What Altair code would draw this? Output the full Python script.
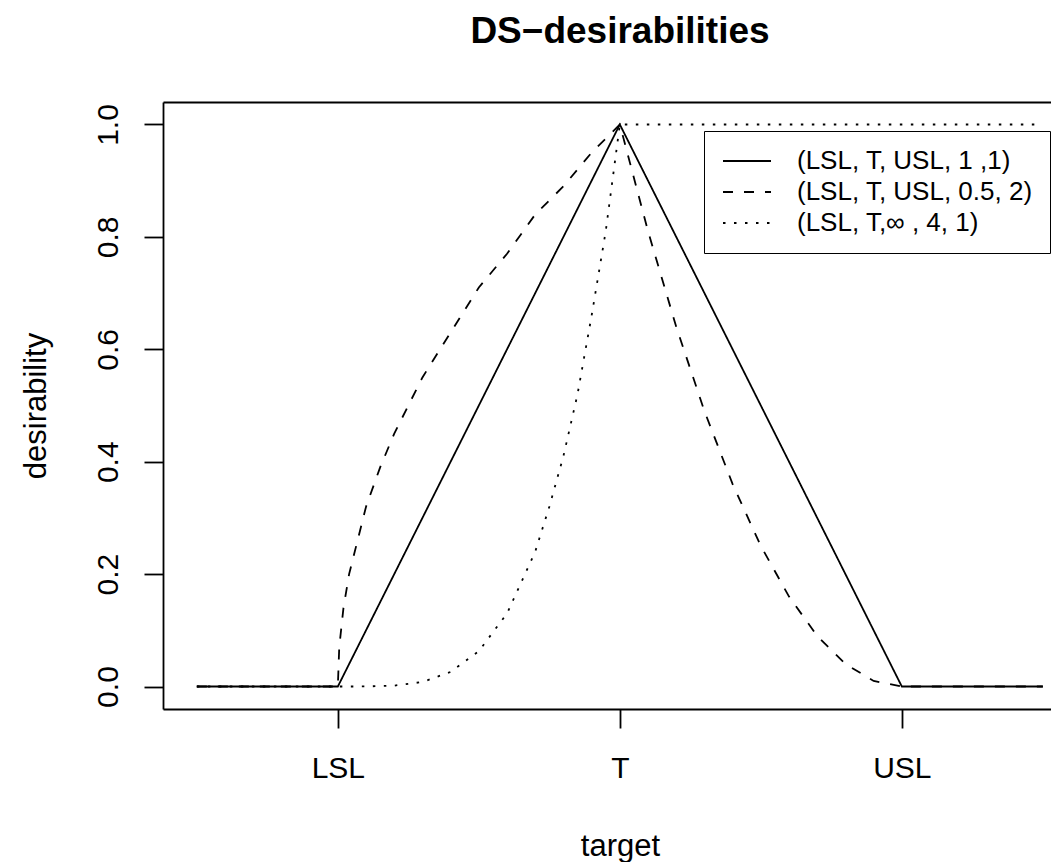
import altair as alt
import pandas as pd

# ---- data ----
series_labels = ["(LSL, T, USL, 1 ,1)", "(LSL, T, USL, 0.5, 2)", "(LSL, T,\u221e , 4, 1)"]
xtick_values = [1, 2, 3]
xtick_labels = ["LSL", "T", "USL"]
ytick_values = [0.0, 0.2, 0.4, 0.6, 0.8, 1.0]

solid_x = [0.5, 1.0, 2.0, 3.0, 3.5]
solid_y = [0.0, 0.0, 1.0, 0.0, 0.0]

dashed_x = [0.5, 1.0, 1.005, 1.02, 1.04, 1.07, 1.1, 1.15, 1.2, 1.3, 1.4, 1.5, 1.6, 1.7, 1.8, 1.9, 2.0,
            2.1, 2.2, 2.3, 2.4, 2.5, 2.6, 2.7, 2.8, 2.9, 3.0, 3.5]
dashed_y = [0.0, 0.0, 0.07, 0.14, 0.2, 0.26, 0.32, 0.39, 0.45, 0.55, 0.63, 0.71, 0.77, 0.84, 0.89, 0.95, 1.0,
            0.81, 0.64, 0.49, 0.36, 0.25, 0.16, 0.09, 0.04, 0.01, 0.0, 0.0]

dotted_x = [0.5, 1.0, 1.1, 1.2, 1.3, 1.4, 1.5, 1.6, 1.7, 1.75, 1.8, 1.85, 1.9, 1.95, 2.0, 3.5]
dotted_y = [0.0, 0.0, 0.0001, 0.0016, 0.008, 0.026, 0.063, 0.13, 0.24, 0.32, 0.41, 0.52, 0.66, 0.81, 1.0, 1.0]

rows = []
for lab, xs, ys in zip(series_labels, [solid_x, dashed_x, dotted_x], [solid_y, dashed_y, dotted_y]):
    for i, (xv, yv) in enumerate(zip(xs, ys)):
        rows.append({"x": xv, "y": yv, "series": lab, "i": i})
df = pd.DataFrame(rows)

FONT = "Liberation Sans"
LW = 1.8

label_expr = " : ".join(
    [f"datum.value == {v} ? '{t}'" for v, t in zip(xtick_values[:-1], xtick_labels[:-1])]
) + f" : '{xtick_labels[-1]}'"

xscale = alt.Scale(domain=[0.38, 3.529], nice=False, zero=False)
yscale = alt.Scale(domain=[-0.04, 1.04], nice=False, zero=False)

lines = alt.Chart(df).mark_line(color="black", strokeWidth=LW, clip=True).encode(
    x=alt.X("x:Q", scale=xscale,
            axis=alt.Axis(values=xtick_values, labelExpr=label_expr, title="target",
                          titleX=457, titleY=146, titleBaseline="alphabetic", titleAlign="center",
                          labelPadding=25, tickSize=19, labelFlush=False, labelOverlap=False)),
    y=alt.Y("y:Q", scale=yscale,
            axis=alt.Axis(values=ytick_values, format=".1f", title="desirability",
                          labelAngle=270, labelAlign="center", labelBaseline="alphabetic",
                          labelPadding=27, tickSize=19,
                          titleAngle=270, titleX=-118, titleY=303.5, titleBaseline="alphabetic",
                          titleAlign="center", labelFlush=False, labelOverlap=False)),
    strokeDash=alt.StrokeDash(
        "series:N",
        scale=alt.Scale(domain=series_labels, range=[[1, 0], [10, 11], [2.5, 8.5]]),
        legend=alt.Legend(
            title=None, orient="none", legendX=541, legendY=29,
            strokeColor="black", fillColor="white", padding=17,
            symbolType="M-2.4,0H2.4", symbolSize=400, symbolStrokeWidth=LW,
            symbolStrokeColor="black", symbolOffset=13, labelOffset=37,
            labelFontSize=26, labelFont=FONT, labelColor="black", labelLimit=500,
            rowPadding=5, labelBaseline="middle",
        ),
    ),
    order="i:Q",
)

top_frame = alt.Chart(df).mark_point(opacity=0).encode(
    x=alt.X("x:Q", scale=xscale,
            axis=alt.Axis(orient="top", labels=False, ticks=False, domain=True, grid=False, title=None)),
)

chart = alt.layer(lines, top_frame).resolve_axis(x="independent").properties(
    width=888, height=607,
    title=alt.TitleParams("DS\u2212desirabilities", fontSize=37, font=FONT, fontWeight="bold",
                          anchor="middle", baseline="alphabetic", offset=22, dx=13, color="black"),
    autosize=alt.AutoSizeParams(type="none"),
    padding={"left": 155, "top": 94, "right": 0, "bottom": 153},
    background="white",
).configure_view(stroke=None).configure_axis(
    grid=False, domainColor="black", domainWidth=LW, tickColor="black", tickWidth=LW,
    labelFont=FONT, labelFontSize=30, labelColor="black",
    titleFont=FONT, titleFontSize=31, titleColor="black", titleFontWeight="normal",
)

chart.save("out.html", embed_options={"renderer": "svg", "actions": False})
